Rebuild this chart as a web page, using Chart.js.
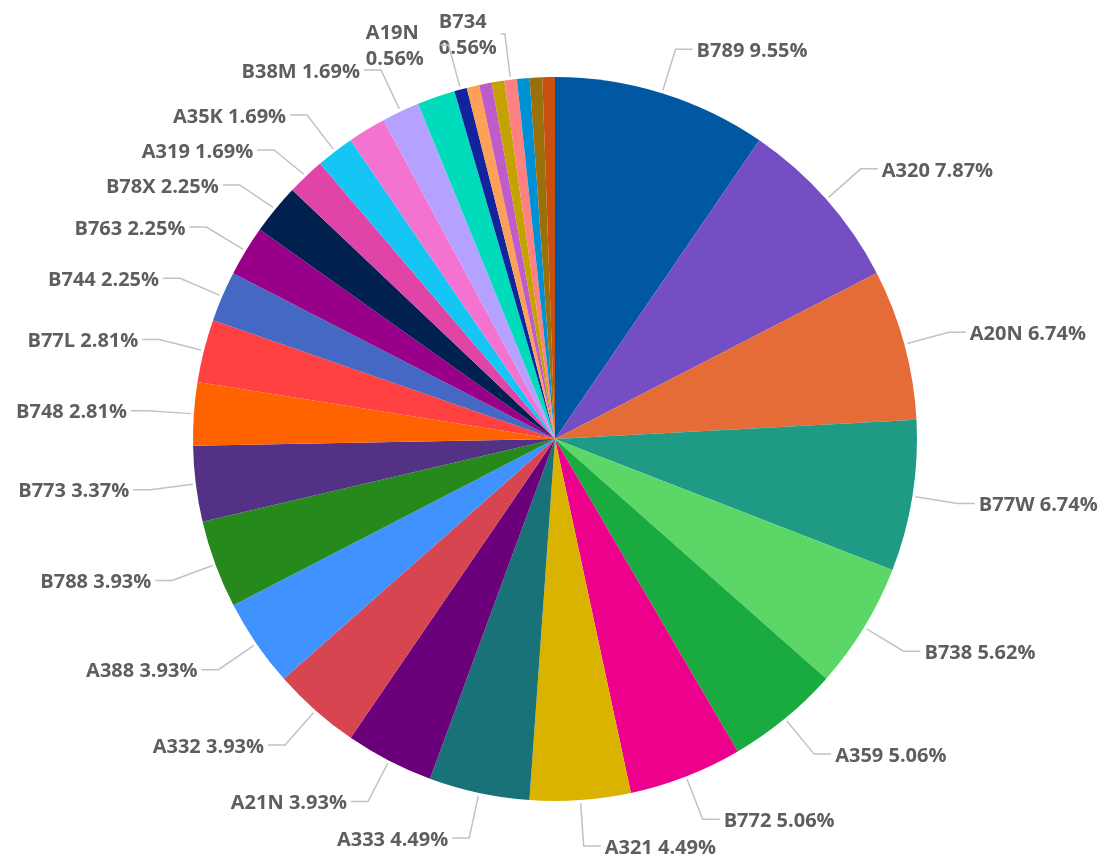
<!DOCTYPE html>
<html>
<head>
<meta charset="utf-8">
<script src="https://cdn.jsdelivr.net/npm/chart.js@4.4.0/dist/chart.umd.min.js"></script>
<style>
  html, body { margin: 0; padding: 0; background: #fff; }
  #wrap { width: 1107px; height: 858px; }
</style>
</head>
<body>
<div id="wrap"><canvas id="myChart" width="1107" height="858"></canvas></div>
<script>
const ctx = document.getElementById('myChart').getContext('2d');

// aircraft types, clockwise from 12 o'clock
const aircraft = ['B789', 'A320', 'A20N', 'B77W', 'B738', 'A359', 'B772', 'A321', 'A333', 'A21N',
    'A332', 'A388', 'B788', 'B773', 'B748', 'B77L', 'B744', 'B763', 'B78X', 'A319',
    'A35K', 'A339', 'B38M', 'B39M', 'A19N', 'A346', 'A343', 'B752', 'B734', 'B764',
    'A310', 'B712'];
const sharePct = [9.55, 7.87, 6.74, 6.74, 5.62, 5.06, 5.06, 4.49, 4.49, 3.93,
    3.93, 3.93, 3.93, 3.37, 2.81, 2.81, 2.25, 2.25, 2.25, 1.69,
    1.69, 1.69, 1.69, 1.69, 0.56, 0.56, 0.56, 0.56, 0.56, 0.56,
    0.56, 0.56];
const sliceColors = ['#0057A2', '#744EC2', '#E66C37', '#1F9A85', '#5BD667', '#1AAB40', '#EC008C', '#D9B300', '#197278', '#6B007B',
    '#D64550', '#4092FF', '#25891C', '#533285', '#FF6300', '#FF4141', '#4668C5', '#99008A', '#002050', '#E044A7',
    '#15C6F4', '#F472D0', '#B5A1FF', '#00DBBC', '#12239E', '#FFA058', '#BE5DC9', '#C4A200', '#FF8080', '#0091D5',
    '#99700A', '#C94F0F'];
// only these slices get a data label in the picture
const labelled = ['B789', 'A320', 'A20N', 'B77W', 'B738', 'A359', 'B772', 'A321', 'A333', 'A21N',
    'A332', 'A388', 'B788', 'B773', 'B748', 'B77L', 'B744', 'B763', 'B78X', 'A319',
    'A35K', 'B38M', 'A19N', 'B734'];
const wrapped = ['A19N', 'B734']; // no room -> name and value on two lines

const labelFont = '700 20px "Open Sans"';
const labelColor = '#605e5c';

// leader line labels (like the power bi ones)
const leaderLabels = {
    id: 'leaderLabels',
    afterDatasetsDraw(chart) {
        const g = chart.ctx;
        const meta = chart.getDatasetMeta(0);
        const items = [];
        meta.data.forEach((arc, i) => {
            if (!labelled.includes(aircraft[i])) return;
            const a = (arc.startAngle + arc.endAngle) / 2;
            const r = arc.outerRadius;
            items.push({
                p0: { x: arc.x + (r + 3) * Math.cos(a), y: arc.y + (r + 3) * Math.sin(a) },
                p1: { x: arc.x + (r + 46) * Math.cos(a), y: arc.y + (r + 46) * Math.sin(a) },
                right: Math.cos(a) >= 0,
                name: aircraft[i],
                pct: sharePct[i].toFixed(2) + '%',
                wrap: wrapped.includes(aircraft[i]),
            });
        });

        // keep left side labels apart
        const left = items.filter(o => !o.right && !o.wrap).sort((u, v) => u.p1.y - v.p1.y);
        for (let k = 1; k < left.length; k++) {
            if (left[k].p1.y - left[k - 1].p1.y < 35) left[k].p1.y = left[k - 1].p1.y + 35;
        }

        g.save();
        g.font = labelFont;
        g.fillStyle = labelColor;
        g.strokeStyle = '#c2c2c2';
        g.lineWidth = 1.5;
        g.textBaseline = 'middle';

        let prevLeftEdge = null;
        items.filter(o => o.wrap).sort((u, v) => v.p1.x - u.p1.x).forEach(o => {
            const w = Math.max(g.measureText(o.name).width, g.measureText(o.pct).width);
            let xr = o.p1.x - 8;
            if (prevLeftEdge !== null && xr > prevLeftEdge - 15) xr = prevLeftEdge - 15;
            prevLeftEdge = xr - w;
            g.beginPath();
            g.moveTo(o.p0.x, o.p0.y);
            g.lineTo(o.p1.x, o.p1.y);
            g.lineTo(Math.max(xr + 4, o.p1.x - 8), o.p1.y);
            g.stroke();
            g.textAlign = 'left';
            g.fillText(o.name, xr - w, o.p1.y - 12);
            g.fillText(o.pct, xr - w, o.p1.y + 14);
        });

        items.filter(o => !o.wrap).forEach(o => {
            const dir = o.right ? 1 : -1;
            g.beginPath();
            g.moveTo(o.p0.x, o.p0.y);
            g.lineTo(o.p1.x, o.p1.y);
            g.lineTo(o.p1.x + dir * 17, o.p1.y);
            g.stroke();
            g.textAlign = o.right ? 'left' : 'right';
            g.fillText(o.name + ' ' + o.pct, o.p1.x + dir * 21, o.p1.y + 2);
        });
        g.restore();
    },
};

new Chart(ctx, {
    type: 'pie',
    data: {
        labels: aircraft,
        datasets: [{
            data: sharePct,
            backgroundColor: sliceColors,
            borderWidth: 0,
        }],
    },
    options: {
        responsive: false,
        animation: false,
        layout: {
            padding: { left: 193, right: 190, top: 77, bottom: 57 },
        },
        plugins: {
            legend: { display: false },
            tooltip: { enabled: false },
        },
    },
    plugins: [leaderLabels],
});
</script>
</body>
</html>
